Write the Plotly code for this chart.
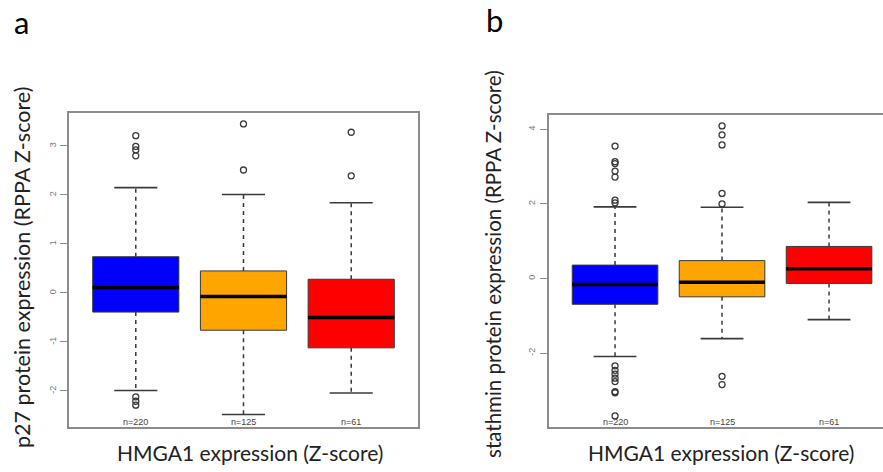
import plotly.graph_objects as go

# ---------------- data ----------------
positions = [1, 2, 3]
n_labels = ["n=220", "n=125", "n=61"]
box_colors = ["#0000FF", "#FFA500", "#FF0000"]

# panel a: p27
p27_lo = [-1.99, -2.48, -2.04]
p27_q1 = [-0.39, -0.76, -1.12]
p27_med = [0.11, -0.07, -0.50]
p27_q3 = [0.74, 0.45, 0.28]
p27_hi = [2.15, 2.01, 1.84]
p27_out = [
    [3.21, 2.99, 2.92, 2.80, -2.12, -2.21, -2.29],
    [3.45, 2.51],
    [3.28, 2.39],
]
p27_ticks = [-2, -1, 0, 1, 2, 3]

# panel b: stathmin
st_lo = [-2.09, -1.61, -1.10]
st_q1 = [-0.69, -0.49, -0.13]
st_med = [-0.16, -0.10, 0.26]
st_q3 = [0.36, 0.48, 0.86]
st_hi = [1.92, 1.91, 2.04]
st_out = [
    [3.55, 3.13, 3.08, 2.88, 2.72, 2.10, 2.03,
     -2.34, -2.46, -2.56, -2.67, -2.76, -3.03, -3.06, -3.68],
    [4.09, 3.85, 3.58, 2.28, 2.00, -2.62, -2.84],
    [],
]
st_ticks = [-2, 0, 2, 4]

x_title = "HMGA1 expression (Z-score)"
y_title_a = "p27 protein expression (RPPA Z-score)"
y_title_b = "stathmin protein expression (RPPA Z-score)"

# ---------------- figure ----------------
W, H = 883, 472
FONT = "Lato"
fig = go.Figure()

BOX_W = 0.8
CAP_HALF = 0.2
DARK = "#3a3a3a"


def add_panel(xa, ya, lo, q1, med, q3, hi, outs):
    for i, xp in enumerate(positions):
        # box body
        fig.add_trace(go.Box(
            x=[xp], q1=[q1[i]], median=[med[i]], q3=[q3[i]],
            lowerfence=[q1[i]], upperfence=[q3[i]],
            width=BOX_W, fillcolor=box_colors[i],
            line=dict(color=DARK, width=1), whiskerwidth=0,
            boxpoints=False, xaxis=xa, yaxis=ya, showlegend=False,
            hoverinfo="skip",
        ))
        # whiskers (dashed)
        fig.add_trace(go.Scatter(
            x=[xp, xp, None, xp, xp], y=[q3[i], hi[i], None, q1[i], lo[i]],
            mode="lines", line=dict(color=DARK, width=1.5, dash="4px,4px"),
            xaxis=xa, yaxis=ya, showlegend=False, hoverinfo="skip",
        ))
        # caps
        fig.add_trace(go.Scatter(
            x=[xp - CAP_HALF, xp + CAP_HALF, None, xp - CAP_HALF, xp + CAP_HALF],
            y=[hi[i], hi[i], None, lo[i], lo[i]],
            mode="lines", line=dict(color=DARK, width=1.6),
            xaxis=xa, yaxis=ya, showlegend=False, hoverinfo="skip",
        ))
        # median
        fig.add_trace(go.Scatter(
            x=[xp - BOX_W / 2, xp + BOX_W / 2], y=[med[i], med[i]],
            mode="lines", line=dict(color="black", width=3.5),
            xaxis=xa, yaxis=ya, showlegend=False, hoverinfo="skip",
        ))
        # outliers
        if outs[i]:
            fig.add_trace(go.Scatter(
                x=[xp] * len(outs[i]), y=outs[i], mode="markers",
                marker=dict(symbol="circle-open", size=6,
                            line=dict(color=DARK, width=1.3), color=DARK),
                xaxis=xa, yaxis=ya, showlegend=False, hoverinfo="skip",
            ))


add_panel("x", "y", p27_lo, p27_q1, p27_med, p27_q3, p27_hi, p27_out)
add_panel("x2", "y2", st_lo, st_q1, st_med, st_q3, st_hi, st_out)

FRAME = "#8c8c8c"
common_x = dict(showgrid=False, zeroline=False, showticklabels=False,
                ticks="", showline=True, linecolor=FRAME, linewidth=1.5)
common_y = dict(showgrid=False, zeroline=False, ticks="outside", ticklen=7,
                tickcolor=FRAME, tickwidth=1, showline=True, linecolor=FRAME,
                linewidth=1.5, tickangle=-90,
                tickfont=dict(family="Liberation Sans", size=9, color="#777"))

fig.update_layout(
    width=W, height=H,
    margin=dict(l=0, r=0, t=0, b=0, pad=0),
    paper_bgcolor="white", plot_bgcolor="white",
    boxmode="overlay",
    xaxis=dict(domain=[69 / W, 418 / W], range=[0.38, 3.62], mirror=True, **common_x),
    yaxis=dict(domain=[(H - 427) / H, (H - 113) / H], range=[-2.735, 3.673],
               tickvals=p27_ticks, ticktext=[str(t) for t in p27_ticks],
               mirror=True, anchor="x", ticklabelstandoff=1, **common_y),
    xaxis2=dict(domain=[548.7 / W, 1.0], range=[0.38, 0.38 + (W - 548.7) / 107.0],
                mirror=True, anchor="y2", **common_x),
    yaxis2=dict(domain=[(H - 426.7) / H, (H - 114.7) / H], range=[-3.97, 4.39],
                tickvals=st_ticks, ticktext=[str(t) for t in st_ticks],
                mirror=False, anchor="x2", ticklabelstandoff=1, **common_y),
)

ann = []
# n labels
for xa, ya in [("x", "y"), ("x2", "y2")]:
    for i, xp in enumerate(positions):
        ann.append(dict(x=xp, y=0, xref=xa, yref=ya + " domain", text=n_labels[i],
                        showarrow=False, yanchor="bottom", yshift=-2,
                        font=dict(family="Liberation Sans", size=9, color="#444")))
# panel letters
ann.append(dict(x=21 / W, y=1 - 22 / H, xref="paper", yref="paper", text="a",
                showarrow=False, xanchor="center", yanchor="middle",
                font=dict(family=FONT, size=31, color="black")))
ann.append(dict(x=494 / W, y=1 - 20 / H, xref="paper", yref="paper", text="b",
                showarrow=False, xanchor="center", yanchor="middle",
                font=dict(family=FONT, size=31, color="black")))
# axis titles
TF = dict(family=FONT, size=21, color="#222")
ann.append(dict(x=250 / W, y=1 - 452 / H, xref="paper", yref="paper", text=x_title,
                showarrow=False, xanchor="center", yanchor="middle", font=TF))
ann.append(dict(x=721 / W, y=1 - 452 / H, xref="paper", yref="paper", text=x_title,
                showarrow=False, xanchor="center", yanchor="middle", font=TF))
ann.append(dict(x=22 / W, y=1 - 268 / H, xref="paper", yref="paper", text=y_title_a,
                showarrow=False, xanchor="center", yanchor="middle", textangle=-90,
                font=dict(family=FONT, size=21.5, color="#222")))
ann.append(dict(x=493 / W, y=1 - 264 / H, xref="paper", yref="paper", text=y_title_b,
                showarrow=False, xanchor="center", yanchor="middle", textangle=-90,
                font=dict(family=FONT, size=20.5, color="#222")))
fig.update_layout(annotations=ann)

fig.write_html("out.html")
